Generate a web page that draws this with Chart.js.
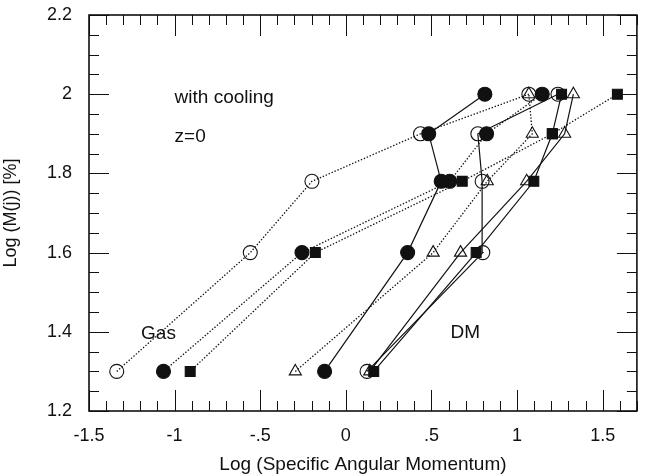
<!DOCTYPE html>
<html>
<head>
<meta charset="utf-8">
<script src="https://cdn.jsdelivr.net/npm/chart.js"></script>
<style>
  html, body { margin: 0; padding: 0; background: #fff; }
  canvas { display: block; }
</style>
</head>
<body>
<canvas id="amChart" width="645" height="476"></canvas>
<script>
// Cumulative mass levels (log %) for 20, 40, 60, 80, 100 %
const massLevels = [1.30, 1.60, 1.78, 1.90, 2.00]

// Log specific angular momentum at each level, gas (dotted) and dark matter (solid)
const gasOpenCircle   = [-1.338, -0.558, -0.198, 0.436, 1.069]
const gasFilledCircle = [-1.065, -0.256, 0.607, 0.822, 1.147]
const gasSquare       = [-0.909, -0.178, 0.680, 1.206, 1.586]
const gasTriangle     = [-0.295, 0.510, 0.826, 1.089, 1.069]
const dmOpenCircle    = [0.124, 0.800, 0.796, 0.771, 1.239]
const dmFilledCircle  = [-0.124, 0.361, 0.557, 0.484, 0.812]
const dmSquare        = [0.163, 0.761, 1.098, 1.206, 1.260]
const dmTriangle      = [0.140, 0.670, 1.056, 1.278, 1.329]

// Axis ticks
const xRange = [-1.5, 1.7]
const yRange = [1.2, 2.2]
const xTickLabels = { '-15': '-1.5', '-10': '-1', '-5': '-.5', '0': '0', '5': '.5', '10': '1', '15': '1.5' }
const yTickLabels = ['1.2', '1.4', '1.6', '1.8', '2', '2.2']

const notes = [
  { text: 'with cooling', x: -1.0, y: 1.978 },
  { text: 'z=0', x: -1.0, y: 1.879 },
  { text: 'Gas', x: -1.196, y: 1.381 },
  { text: 'DM', x: 0.611, y: 1.384 },
]

const FONT = '"Liberation Sans", Arial, Helvetica, sans-serif'
const INK = '#111'

function toPoints(xs) {
  return xs.map((x, i) => ({ x, y: massLevels[i] }))
}

function series(xs, style, gas) {
  const filled = style === 'filled' || style === 'square'
  return {
    data: toPoints(xs),
    showLine: true,
    borderColor: INK,
    borderWidth: gas ? 1.3 : 1.2,
    borderDash: gas ? [1.4, 1.8] : [],
    pointStyle: style === 'square' ? 'rect' : style === 'triangle' ? 'triangle' : 'circle',
    pointRadius: 7,
    pointBorderWidth: 1.1,
    pointBorderColor: INK,
    pointBackgroundColor: filled ? INK : 'rgba(0,0,0,0)',
  }
}

// Inward ticks on all four sides plus frame and text notes
const framePlugin = {
  id: 'frame',
  afterDraw(chart) {
    const { ctx, chartArea: a, scales: { x, y } } = chart
    ctx.save()
    ctx.strokeStyle = INK
    ctx.lineWidth = 1
    ctx.beginPath()
    x.ticks.forEach(t => {
      const px = Math.round(x.getPixelForValue(t.value)) + 0.5
      const major = Math.abs(t.value * 2 - Math.round(t.value * 2)) < 1e-6
      const len = major ? 21 : 10
      ctx.moveTo(px, a.bottom); ctx.lineTo(px, a.bottom - len)
      ctx.moveTo(px, a.top); ctx.lineTo(px, a.top + len)
    })
    y.ticks.forEach(t => {
      const py = Math.round(y.getPixelForValue(t.value)) + 0.5
      const major = Math.abs(t.value * 5 - Math.round(t.value * 5)) < 1e-6
      const len = major ? 20 : 10
      ctx.moveTo(a.left, py); ctx.lineTo(a.left + len, py)
      ctx.moveTo(a.right, py); ctx.lineTo(a.right - len, py)
    })
    ctx.stroke()
    ctx.lineWidth = 1.6
    ctx.strokeRect(a.left, a.top, a.right - a.left, a.bottom - a.top)

    ctx.fillStyle = INK
    ctx.font = '19px ' + FONT
    ctx.textBaseline = 'alphabetic'
    ctx.textAlign = 'left'
    notes.forEach(n => {
      ctx.fillText(n.text, x.getPixelForValue(n.x), y.getPixelForValue(n.y))
    })
    ctx.restore()
  },
}

new Chart(document.getElementById('amChart'), {
  type: 'scatter',
  data: {
    datasets: [
      series(dmFilledCircle, 'filled', false),
      series(gasFilledCircle, 'filled', true),
      series(dmSquare, 'square', false),
      series(gasSquare, 'square', true),
      series(dmOpenCircle, 'open', false),
      series(gasOpenCircle, 'open', true),
      series(dmTriangle, 'triangle', false),
      series(gasTriangle, 'triangle', true),
    ],
  },
  options: {
    responsive: false,
    animation: false,
    layout: { padding: { left: 0, right: 8, top: 15, bottom: 0 } },
    plugins: {
      legend: { display: false },
      tooltip: { enabled: false },
    },
    scales: {
      x: {
        type: 'linear',
        min: xRange[0],
        max: xRange[1],
        afterFit: s => { s.height = 65; s.paddingLeft = 0; s.paddingRight = 0 },
        border: { display: false },
        grid: { display: false },
        ticks: {
          stepSize: 0.1,
          autoSkip: false,
          maxRotation: 0,
          padding: 6,
          color: INK,
          font: { family: FONT, size: 18 },
          callback: v => xTickLabels[String(Math.round(v * 10))] || '',
        },
        title: {
          display: true,
          text: 'Log (Specific Angular Momentum)',
          color: INK,
          font: { family: FONT, size: 19 },
          padding: { top: 2, bottom: 0 },
        },
      },
      y: {
        type: 'linear',
        min: yRange[0],
        max: yRange[1],
        afterFit: s => { s.width = 89; s.paddingTop = 0; s.paddingBottom = 0 },
        border: { display: false },
        grid: { display: false },
        ticks: {
          stepSize: 0.05,
          autoSkip: false,
          padding: 9,
          color: INK,
          font: { family: FONT, size: 18 },
          callback: v => {
            const k = Math.round(v * 100)
            return k % 20 === 0 ? yTickLabels[(k - 120) / 20] : ''
          },
        },
        title: {
          display: true,
          text: 'Log (M(j)) [%]',
          color: INK,
          font: { family: FONT, size: 18 },
          padding: { top: 0, bottom: 0 },
        },
      },
    },
  },
  plugins: [framePlugin],
})
</script>
</body>
</html>
